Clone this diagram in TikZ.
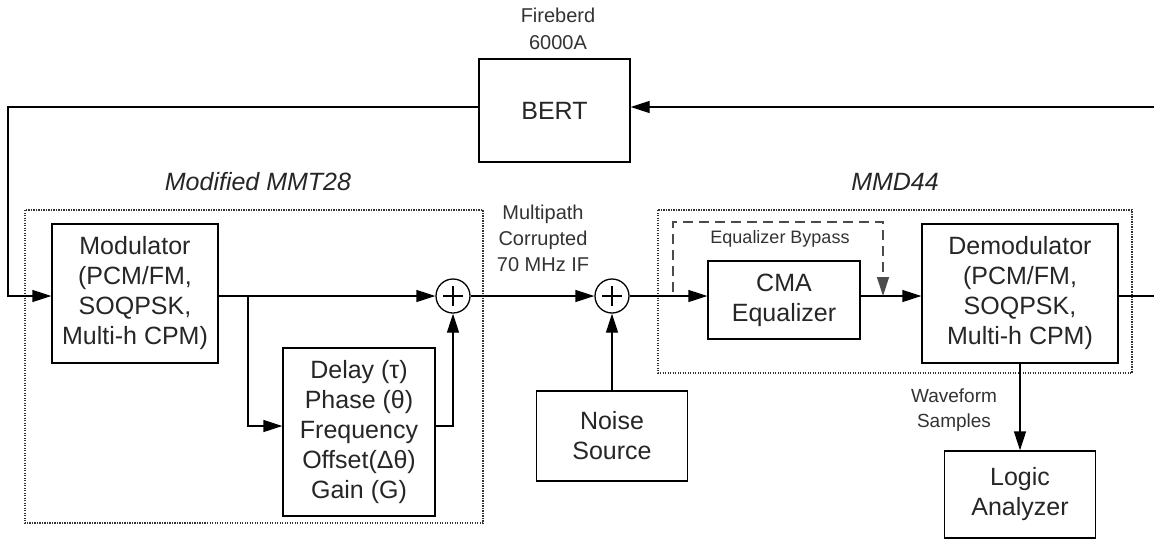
\documentclass[tikz,border=0pt]{standalone}
\usepackage{fontspec}
\setmainfont{Liberation Sans}
\usetikzlibrary{arrows.meta,calc}
\begin{document}
\begin{tikzpicture}[x=1pt,y=-1pt,
  blk/.style={draw,line width=1.3pt,inner sep=0pt,align=center,text=black!85,font=\fontsize{25}{30}\selectfont},
  conn/.style={line width=1.3pt,-{Triangle[length=19pt,width=12pt]}},
  plain/.style={line width=1.3pt},
  sumn/.style={draw,circle,line width=1.3pt,minimum size=34pt,inner sep=0pt},
  grp/.style={draw=black!80,line width=1.2pt,dash pattern=on 1.3pt off 1.2pt},
  bypass/.style={line width=1.3pt,draw=black!70,dash pattern=on 10pt off 6pt,-{Triangle[length=19pt,width=12pt]}},
  lbl/.style={font=\fontsize{20}{26}\selectfont,align=center,text=black!80},
  ttl/.style={font=\itshape\fontsize{25}{30}\selectfont,text=black!85}]
\useasboundingbox (0,0) rectangle (1154,541);
\fill[white] (0,0) rectangle (1154,541);

% group frames
\draw[grp] (25,210) rectangle (483,523);
\draw[grp] (658,210) rectangle (1132,373);
\node[ttl] (tmod) at (258,182) {Modified MMT28};
\node[ttl] (tdem) at (895,182) {MMD44};

% blocks
\node[blk,minimum width=151pt,minimum height=103pt] (bert) at (554.5,110.5) {BERT};
\node[lbl,font=\fontsize{20}{27}\selectfont] (fb) at (558,28.5) {Fireberd\\6000A};
\node[blk,minimum width=166pt,minimum height=139pt] (mod) at (135,293.5) {Modulator\\(PCM/FM,\\SOQPSK,\\Multi-h CPM)};
\node[blk,minimum width=152pt,minimum height=168pt] (dly) at (359,432) {Delay (τ)\\Phase (θ)\\Frequency\\Offset(Δθ)\\Gain (G)};
\node[sumn] (s1) at (453,296) {};
\node[sumn] (s2) at (612,296) {};
\node[blk,minimum width=151pt,minimum height=90pt] (noise) at (612,436) {Noise\\Source};
\node[blk,minimum width=152pt,minimum height=78pt] (cma) at (784,300) {CMA\\Equalizer};
\node[blk,minimum width=196pt,minimum height=139pt] (dem) at (1020,293.5) {Demodulator\\(PCM/FM,\\SOQPSK,\\Multi-h CPM)};
\node[blk,minimum width=151pt,minimum height=87pt] (la) at (1020,494.5) {Logic\\Analyzer};

% plus signs
\foreach \s in {s1,s2}{
  \draw[line width=2pt] ($(\s)+(-10,0)$) -- ($(\s)+(10,0)$);
  \draw[line width=2pt] ($(\s)+(0,-10)$) -- ($(\s)+(0,10)$);
}

% labels
\node[lbl] (mp) at (543,238) {Multipath\\Corrupted\\70 MHz IF};
\node[lbl,font=\fontsize{18}{22}\selectfont] (eb) at (780,239) {Equalizer Bypass};
\node[lbl,font=\fontsize{19}{25}\selectfont] (ws) at (954,410.5) {Waveform\\Samples};

% coordinates
\coordinate (rin) at (1154,107);
\coordinate (rout) at (1154,296);
\coordinate (lft) at (8,107);
\coordinate (br) at (248,296);
\coordinate (bpA) at (673,292);
\coordinate (bpB) at (883,296);

% connectors
\draw[conn] (rin) -- (bert.east |- rin);
\draw[conn] (bert.west |- lft) -- (lft) |- (mod.west |- br);
\draw[conn] (mod.east |- br) -- (s1.west);
\draw[conn] (br) |- ([yshift=6pt]dly.west);
\draw[conn] ([yshift=6pt]dly.east) -| (s1.south);
\draw[conn] (s1.east) -- (s2.west);
\draw[conn] (noise.north) -- (s2.south);
\draw[conn] (s2.east) -- (cma.west |- s2);
\draw[conn] (cma.east |- s2) -- (dem.west |- s2);
\draw[bypass] (bpA) -- ++(0,-70) -| (bpB);
\draw[plain] (dem.east |- rout) -- (rout);
\draw[conn] (dem.south) -- (la.north);
\end{tikzpicture}
\end{document}
